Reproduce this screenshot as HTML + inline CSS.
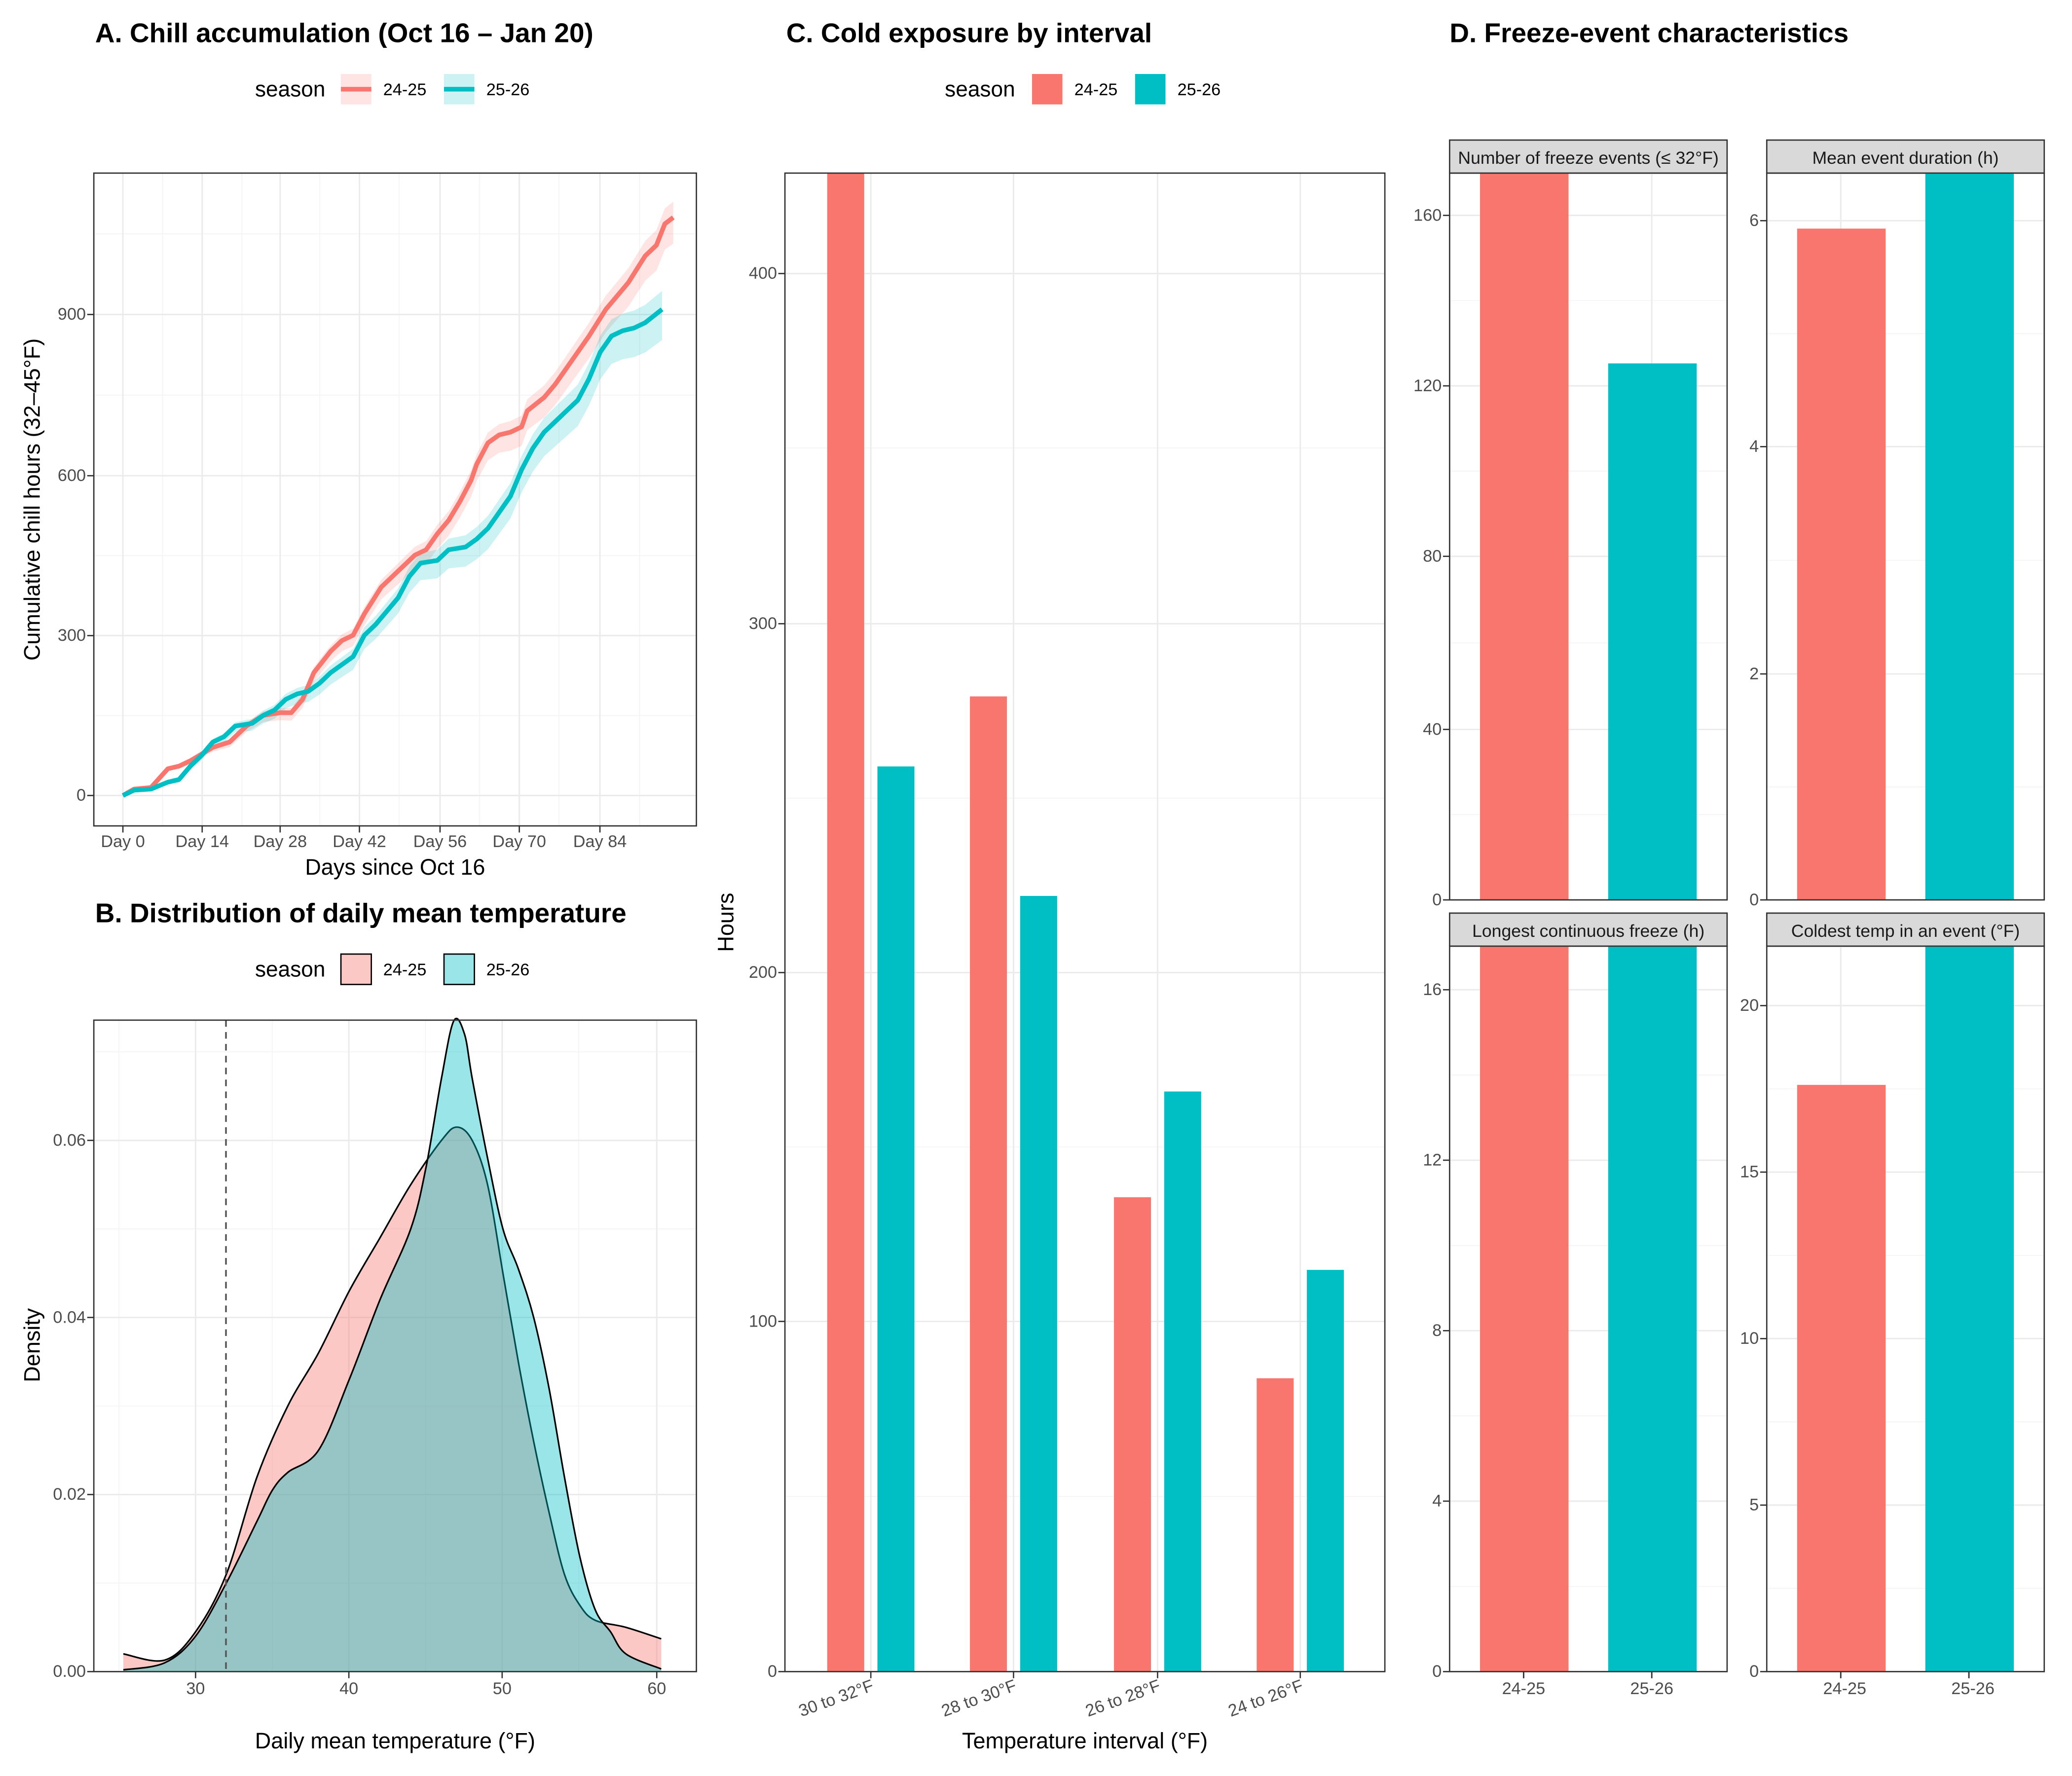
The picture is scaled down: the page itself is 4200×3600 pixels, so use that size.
<!DOCTYPE html>
<html><head><meta charset="utf-8">
<style>
html,body{margin:0;padding:0;background:#fff}
svg{display:block}
text{font-family:"Liberation Sans",Arial,sans-serif}
.t{font-size:12.8px;fill:#4d4d4d}
.tt{font-size:20.5px;font-weight:bold;fill:#000}
.ax{font-size:16.8px;fill:#000}
.lg{font-size:12.8px;fill:#000}
.lgt{font-size:16.5px;fill:#000}
.st{font-size:13.3px;fill:#1a1a1a}
.g{stroke:#ebebeb;stroke-width:1.1}
.gm{stroke:#f3f3f3;stroke-width:0.6}
.bd{fill:none;stroke:#333;stroke-width:1}
.tk{stroke:#333;stroke-width:1}
</style></head>
<body>
<svg id="s" width="4200" height="3600" viewBox="0 0 1568 1344" xmlns="http://www.w3.org/2000/svg">
<rect width="1568" height="1344" fill="#fff"/>
<!-- Panel A -->
<text class="tt" x="72" y="32">A. Chill accumulation (Oct 16 – Jan 20)</text>
<text class="lgt" x="193" y="73">season</text>
<rect x="258" y="56" width="23" height="23" fill="#F8766D" opacity="0.2"/>
<line x1="258" y1="67.5" x2="281" y2="67.5" stroke="#F8766D" stroke-width="3.5"/>
<text class="lg" x="290" y="72">24-25</text>
<rect x="336" y="56" width="23" height="23" fill="#00BFC4" opacity="0.2"/>
<line x1="336" y1="67.5" x2="359" y2="67.5" stroke="#00BFC4" stroke-width="3.5"/>
<text class="lg" x="368" y="72">25-26</text>
<g id="gA"></g>
<rect class="bd" x="71" y="131" width="456" height="494"/>
<g class="t" text-anchor="end">
<text x="65" y="606">0</text><text x="65" y="485">300</text><text x="65" y="364">600</text><text x="65" y="242">900</text>
</g>
<g class="t" text-anchor="middle">
<text x="93" y="641">Day 0</text><text x="153" y="641">Day 14</text><text x="212" y="641">Day 28</text><text x="272" y="641">Day 42</text><text x="333" y="641">Day 56</text><text x="393" y="641">Day 70</text><text x="454" y="641">Day 84</text>
</g>
<text class="ax" x="299" y="662" text-anchor="middle">Days since Oct 16</text>
<text class="ax" transform="translate(30,378) rotate(-90)" text-anchor="middle">Cumulative chill hours (32–45°F)</text>

<!-- Panel B -->
<text class="tt" x="72" y="698">B. Distribution of daily mean temperature</text>
<text class="lgt" x="193" y="739">season</text>
<rect x="258" y="722" width="23" height="23" fill="#F8766D" fill-opacity="0.4" stroke="#000"/>
<text class="lg" x="290" y="738">24-25</text>
<rect x="336" y="722" width="23" height="23" fill="#00BFC4" fill-opacity="0.4" stroke="#000"/>
<text class="lg" x="368" y="738">25-26</text>
<g id="gB"></g>
<rect class="bd" x="71" y="772" width="456" height="493"/>
<g class="t" text-anchor="end">
<text x="65" y="1269">0.00</text><text x="65" y="1135">0.02</text><text x="65" y="1001">0.04</text><text x="65" y="867">0.06</text>
</g>
<g class="t" text-anchor="middle">
<text x="148" y="1282">30</text><text x="264" y="1282">40</text><text x="380" y="1282">50</text><text x="497" y="1282">60</text>
</g>
<text class="ax" x="299" y="1323" text-anchor="middle">Daily mean temperature (°F)</text>
<text class="ax" transform="translate(30,1018) rotate(-90)" text-anchor="middle">Density</text>

<!-- Panel C -->
<text class="tt" x="595" y="32">C. Cold exposure by interval</text>
<text class="lgt" x="715" y="73">season</text>
<rect x="781" y="56" width="23" height="23" fill="#F8766D"/>
<text class="lg" x="813" y="72">24-25</text>
<rect x="859" y="56" width="23" height="23" fill="#00BFC4"/>
<text class="lg" x="891" y="72">25-26</text>
<g id="gC"></g>
<rect class="bd" x="594" y="131" width="454" height="1134"/>
<g class="t" text-anchor="end">
<text x="588" y="1269">0</text><text x="588" y="1004">100</text><text x="588" y="740">200</text><text x="588" y="476">300</text><text x="588" y="211">400</text>
</g>
<g class="t" text-anchor="end">
<text transform="translate(662,1279) rotate(-20)">30 to 32°F</text>
<text transform="translate(770,1279) rotate(-20)">28 to 30°F</text>
<text transform="translate(879,1279) rotate(-20)">26 to 28°F</text>
<text transform="translate(987,1279) rotate(-20)">24 to 26°F</text>
</g>
<text class="ax" x="821" y="1323" text-anchor="middle">Temperature interval (°F)</text>
<text class="ax" transform="translate(555,698) rotate(-90)" text-anchor="middle">Hours</text>

<!-- Panel D -->
<text class="tt" x="1097" y="32">D. Freeze-event characteristics</text>
<g id="gD"></g>
<g class="st" text-anchor="middle">
<text x="1202" y="124">Number of freeze events (≤ 32°F)</text>
<text x="1442" y="124">Mean event duration (h)</text>
<text x="1202" y="709">Longest continuous freeze (h)</text>
<text x="1442" y="709">Coldest temp in an event (°F)</text>
</g>
<g class="t" text-anchor="end">
<text x="1091" y="685">0</text><text x="1091" y="556">40</text><text x="1091" y="425">80</text><text x="1091" y="296">120</text><text x="1091" y="167">160</text>
<text x="1331" y="685">0</text><text x="1331" y="514">2</text><text x="1331" y="342">4</text><text x="1331" y="171">6</text>
<text x="1091" y="1269">0</text><text x="1091" y="1140">4</text><text x="1091" y="1011">8</text><text x="1091" y="882">12</text><text x="1091" y="753">16</text>
<text x="1331" y="1269">0</text><text x="1331" y="1143">5</text><text x="1331" y="1017">10</text><text x="1331" y="891">15</text><text x="1331" y="765">20</text>
</g>
<g class="t" text-anchor="middle">
<text x="1153" y="1282">24-25</text><text x="1250" y="1282">25-26</text>
<text x="1396" y="1282">24-25</text><text x="1493" y="1282">25-26</text>
</g>
</svg>
<script>
var NS="http://www.w3.org/2000/svg";
function el(p,t,a){var e=document.createElementNS(NS,t);for(var k in a)e.setAttribute(k,a[k]);p.appendChild(e);return e;}
function cr(pts){var d="M"+pts[0][0]+","+pts[0][1];for(var i=0;i<pts.length-1;i++){var p0=pts[i-1]||pts[i],p1=pts[i],p2=pts[i+1],p3=pts[i+2]||p2;
d+=" C"+(p1[0]+(p2[0]-p0[0])/6)+","+(p1[1]+(p2[1]-p0[1])/6)+" "+(p2[0]-(p3[0]-p1[0])/6)+","+(p2[1]-(p3[1]-p1[1])/6)+" "+p2[0]+","+p2[1];}return d;}
// Panel A
var gA=document.getElementById("gA");
[541.5,420.5,299,177].forEach(function(y){el(gA,"line",{x1:71,x2:527,y1:y,y2:y,"class":"gm"});});
[123,183,242,302,363,423,484].forEach(function(x){el(gA,"line",{x1:x,x2:x,y1:131,y2:625,"class":"gm"});});
[602,481,360,238].forEach(function(y){el(gA,"line",{x1:71,x2:527,y1:y,y2:y,"class":"g"});el(gA,"line",{x1:66,x2:71,y1:y,y2:y,"class":"tk"});});
[93,153,212,272,333,393,454].forEach(function(x){el(gA,"line",{x1:x,x2:x,y1:131,y2:625,"class":"g"});el(gA,"line",{x1:x,x2:x,y1:625,y2:630,"class":"tk"});});
var red=[[0,0],[2,12],[5,15],[8,50],[10,55],[12,65],[16,90],[19,100],[22,130],[25,150],[28,155],[30,155],[32,180],[34,230],[37,270],[39,290],[41,300],[43,340],[46,390],[49,420],[52,450],[54,460],[56,490],[58,515],[60,550],[62,590],[63,620],[65,660],[67,675],[69,680],[71,690],[72,720],[75,745],[77,770],[79,800],[81,830],[83,860],[86,910],[90,960],[93,1010],[95,1030],[96.5,1070],[98,1082]];
var tea=[[0,0],[2,10],[5,12],[8,25],[10,30],[12,55],[14,75],[16,100],[18,110],[20,130],[23,135],[25,150],[27,160],[29,180],[31,190],[33,195],[35,210],[37,230],[39,245],[41,260],[43,300],[45,320],[47,345],[49,370],[51,410],[53,435],[56,440],[58,460],[61,465],[63,480],[65,500],[67,530],[69,560],[71,610],[73,650],[75,680],[77,700],[79,720],[81,740],[83,780],[85,830],[87,860],[89,870],[91,875],[93,885],[96,910]];
function px(d){return 93+d*4.25;} function py(v){return 602-v*0.4043;}
function rib(data,col,sp){var up=data.map(function(p){return [px(p[0]),py(p[1]+p[0]/100*sp*0.6)];});
var lo=data.map(function(p){return [px(p[0]),py(p[1]-p[0]/100*sp)];}).reverse();
el(gA,"polygon",{points:up.concat(lo).map(function(p){return p.join(",")}).join(" "),fill:col,"fill-opacity":0.2});}
rib(red,"#F8766D",50);rib(tea,"#00BFC4",60);
el(gA,"polyline",{points:red.map(function(p){return px(p[0])+","+py(p[1])}).join(" "),fill:"none",stroke:"#F8766D","stroke-width":3.5,"stroke-linejoin":"round"});
el(gA,"polyline",{points:tea.map(function(p){return px(p[0])+","+py(p[1])}).join(" "),fill:"none",stroke:"#00BFC4","stroke-width":3.5,"stroke-linejoin":"round"});
// Panel B
var gB=document.getElementById("gB");
[1198,1064,930,796].forEach(function(y){el(gB,"line",{x1:71,x2:527,y1:y,y2:y,"class":"gm"});});
[90,206,322,438].forEach(function(x){el(gB,"line",{x1:x,x2:x,y1:772,y2:1265,"class":"gm"});});
[1265,1131,997,863].forEach(function(y){el(gB,"line",{x1:71,x2:527,y1:y,y2:y,"class":"g"});el(gB,"line",{x1:66,x2:71,y1:y,y2:y,"class":"tk"});});
[148,264,380,497].forEach(function(x){el(gB,"line",{x1:x,x2:x,y1:772,y2:1265,"class":"g"});el(gB,"line",{x1:x,x2:x,y1:1265,y2:1270,"class":"tk"});});
function bx(t){return 148+(t-30)*11.63;} function by(d){return 1265-d*6700;}
var dr=[[25.3,0.002],[28,0.0013],[30,0.0045],[32,0.011],[34,0.022],[36,0.03],[38,0.036],[40,0.043],[42,0.049],[44,0.055],[46,0.06],[47,0.0615],[48,0.06],[49,0.055],[50,0.045],[51,0.035],[52,0.026],[53,0.018],[54,0.011],[55,0.0075],[56,0.0058],[58,0.005],[60.3,0.0037]];
var dt=[[25.3,0.0002],[28,0.001],[30,0.004],[32,0.01],[34,0.017],[35,0.0205],[36,0.0225],[38,0.025],[40,0.033],[42,0.042],[44,0.05],[45,0.057],[46,0.067],[46.8,0.0735],[47.5,0.072],[48,0.067],[49,0.058],[50,0.05],[51,0.0455],[52,0.04],[53,0.032],[54,0.022],[55,0.013],[56,0.007],[57,0.0045],[58,0.002],[60.3,0.0003]];
function dens(data,col){var pts=data.map(function(p){return [bx(p[0]),by(p[1])];});var d=cr(pts);
el(gB,"path",{d:d+" L"+bx(60.3)+",1265 L"+bx(25.3)+",1265 Z",fill:col,"fill-opacity":0.4});
el(gB,"path",{d:d,fill:"none",stroke:"#000","stroke-width":1.2});}
dens(dr,"#F8766D");dens(dt,"#00BFC4");
el(gB,"line",{x1:171,x2:171,y1:772,y2:1265,stroke:"#555","stroke-width":1.3,"stroke-dasharray":"5,4"});
// Panel C
var gC=document.getElementById("gC");
[1132.5,868,604,339].forEach(function(y){el(gC,"line",{x1:594,x2:1048,y1:y,y2:y,"class":"gm"});});
[1265,1000,736,472,207].forEach(function(y){el(gC,"line",{x1:594,x2:1048,y1:y,y2:y,"class":"g"});el(gC,"line",{x1:589,x2:594,y1:y,y2:y,"class":"tk"});});
[659,767,876,984].forEach(function(x){el(gC,"line",{x1:x,x2:x,y1:131,y2:1265,"class":"g"});el(gC,"line",{x1:x,x2:x,y1:1265,y2:1270,"class":"tk"});});
[[626,131,"#F8766D"],[664,580,"#00BFC4"],[734,527,"#F8766D"],[772,678,"#00BFC4"],[843,906,"#F8766D"],[881,826,"#00BFC4"],[951,1043,"#F8766D"],[989,961,"#00BFC4"]].forEach(function(b){el(gC,"rect",{x:b[0],y:b[1],width:28,height:1265-b[1],fill:b[2]});});
// Panel D
var gD=document.getElementById("gD");
function facet(x0,y0,y1,ticks,bars){var w=210;
el(gD,"rect",{x:x0,y:y0-25,width:w,height:25,fill:"#d9d9d9",stroke:"#333","stroke-width":1});
for(var i=0;i<ticks.length;i++){if(i<ticks.length-1){var m=(ticks[i]+ticks[i+1])/2;el(gD,"line",{x1:x0,x2:x0+w,y1:m,y2:m,"class":"gm"});}}
if(ticks.length>1){var m2=ticks[ticks.length-1]-(ticks[0]-ticks[1])/2;if(m2>y0)el(gD,"line",{x1:x0,x2:x0+w,y1:m2,y2:m2,"class":"gm"});}
ticks.forEach(function(y){el(gD,"line",{x1:x0,x2:x0+w,y1:y,y2:y,"class":"g"});el(gD,"line",{x1:x0-5,x2:x0,y1:y,y2:y,"class":"tk"});});
[x0+56,x0+153].forEach(function(x){el(gD,"line",{x1:x,x2:x,y1:y0,y2:y1,"class":"g"});el(gD,"line",{x1:x,x2:x,y1:1265,y2:1270,"class":"tk"});});
el(gD,"rect",{x:x0+23,y:bars[0],width:67,height:y1-bars[0],fill:"#F8766D"});
el(gD,"rect",{x:x0+120,y:bars[1],width:67,height:y1-bars[1],fill:"#00BFC4"});
el(gD,"rect",{x:x0,y:y0,width:w,height:y1-y0,fill:"none",stroke:"#333","stroke-width":1});}
facet(1097,131,681,[681,552,421,292,163],[131,275]);
facet(1337,131,681,[681,510,338,167],[173,131]);
facet(1097,716,1265,[1265,1136,1007,878,749],[716,716]);
facet(1337,716,1265,[1265,1139,1013,887,761],[821,716]);
</script>
</body></html>
